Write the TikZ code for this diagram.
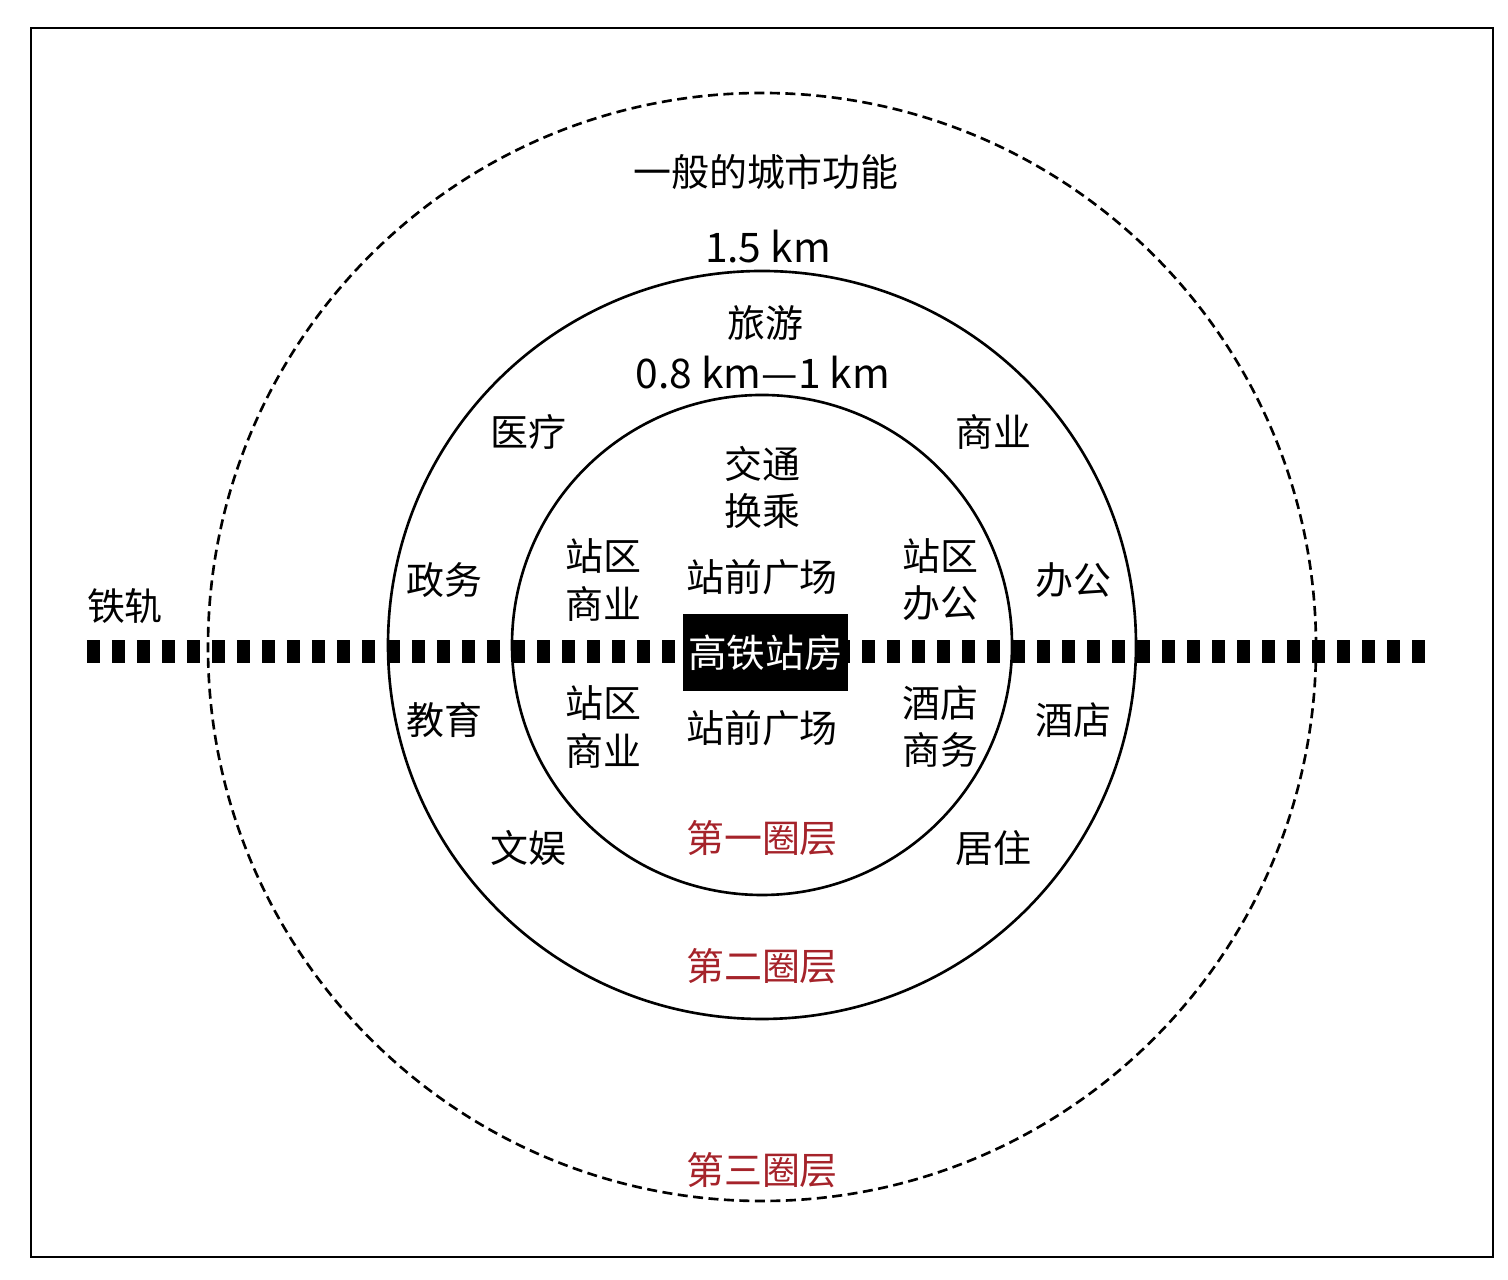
\documentclass[tikz,border=0pt]{standalone}
\usepackage{fontspec}
\setmainfont{Noto Sans CJK SC}
\definecolor{ringred}{RGB}{165,35,42}
\tikzset{
	lbl/.style={inner sep=1pt,align=center,font=\fontsize{10.8}{13.4}\selectfont},
	kmlbl/.style={lbl,font=\fontsize{11.6}{13.4}\selectfont},
	ringname/.style={lbl,text=ringred},
	stationbox/.style={fill=black,text=white,minimum width=1.65cm,minimum height=0.77cm,inner sep=0pt,font=\fontsize{11}{13}\selectfont}
}
\begin{document}
\begin{tikzpicture}
		\useasboundingbox (-7.62,6.45) rectangle (7.46,-6.35);
		\draw [line width=0.7pt] (-7.31,6.17) rectangle (7.31,-6.12);

		% the three rings
		\coordinate (centre) at (0,0);
		\draw [line width=0.75pt,dash pattern=on 0.1cm off 0.055cm] (0,-0.02) circle (5.54);
		\draw [line width=0.75pt] (centre) circle (3.74);
		\draw [line width=0.75pt] (centre) circle (2.50);

		% railway
		\coordinate (railW) at (-6.75,-0.07);
		\coordinate (railE) at (6.68,-0.07);
		\draw [line width=0.23cm,dash pattern=on 0.13cm off 0.12cm] (railW) -- (railE);
		\node (rail) [lbl] at (-6.37,0.39) {铁轨};

		\node (station) [stationbox] at (0.035,-0.075) {高铁站房};

		% third ring
		\node (city)   [lbl] at (0.04,4.73) {一般的城市功能};
		\node (r15)    [kmlbl] at (0.06,3.98) {1.5 km};
		\node (ring3)  [ringname] at (0,-5.25) {第三圈层};

		% second ring
		\node (tour)   [lbl] at (0.03,3.22) {旅游};
		\node (r08)    [kmlbl] at (0.01,2.72) {0.8 km—1 km};
		\node (med)    [lbl] at (-2.34,2.13) {医疗};
		\node (biz)    [lbl] at (2.31,2.13) {商业};
		\node (gov)    [lbl] at (-3.18,0.65) {政务};
		\node (office) [lbl] at (3.11,0.65) {办公};
		\node (edu)    [lbl] at (-3.18,-0.75) {教育};
		\node (hotel)  [lbl] at (3.11,-0.75) {酒店};
		\node (ent)    [lbl] at (-2.34,-2.03) {文娱};
		\node (live)   [lbl] at (2.31,-2.03) {居住};
		\node (ring2)  [ringname] at (0,-3.21) {第二圈层};

		% first ring
		\node (trans)  [lbl] at (0,1.58) {交通\\换乘};
		\node (shopN)  [lbl] at (-1.59,0.65) {站区\\商业};
		\node (plazaN) [lbl] at (0,0.68) {站前广场};
		\node (offN)   [lbl] at (1.78,0.65) {站区\\办公};
		\node (shopS)  [lbl] at (-1.59,-0.82) {站区\\商业};
		\node (plazaS) [lbl] at (0,-0.83) {站前广场};
		\node (hotelS) [lbl] at (1.78,-0.82) {酒店\\商务};
		\node (ring1)  [ringname] at (0,-1.93) {第一圈层};
	\end{tikzpicture}
\end{document}
